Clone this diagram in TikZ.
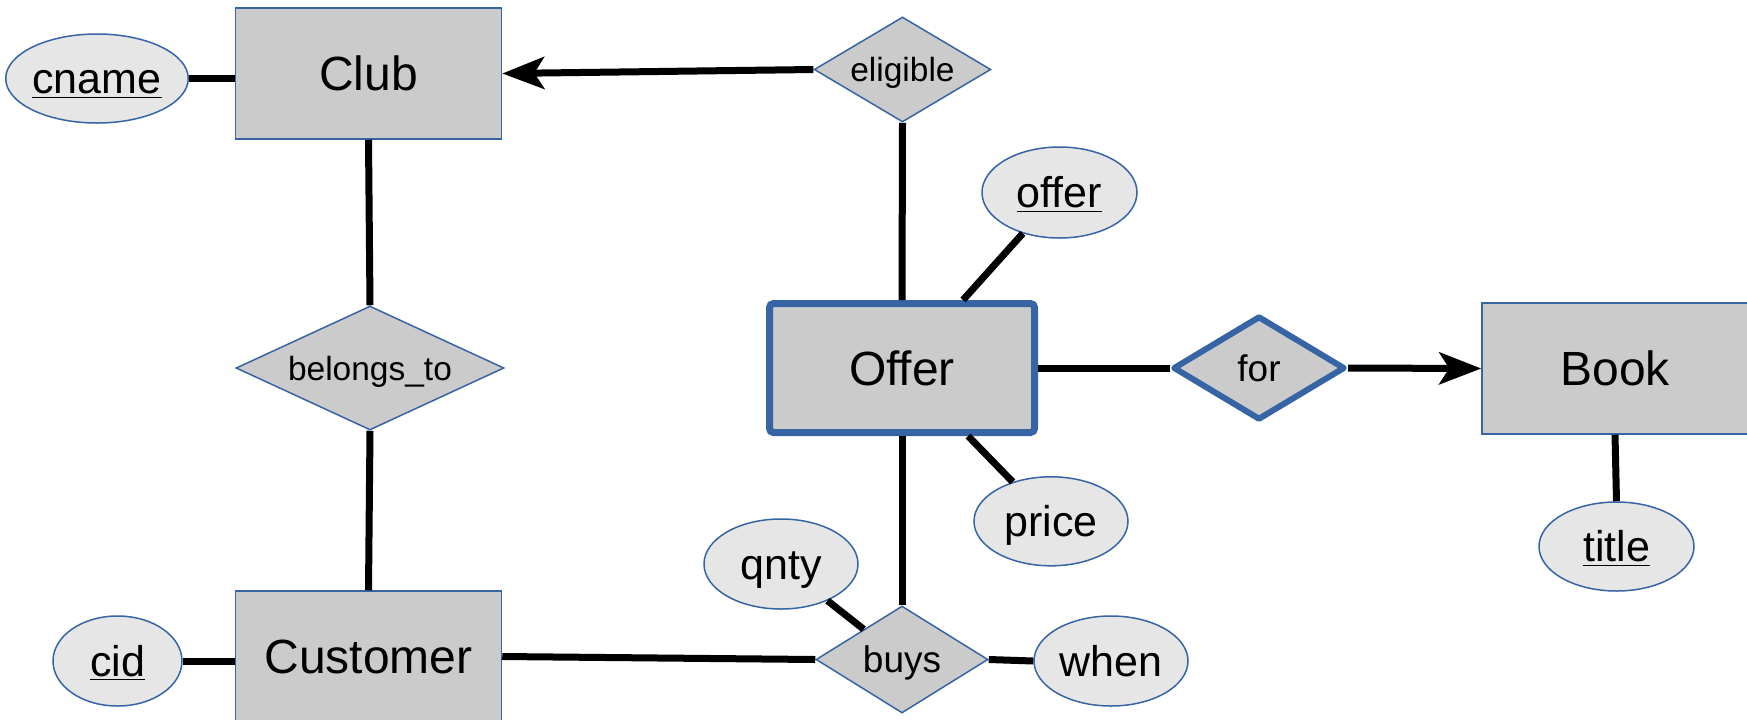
\documentclass[tikz,border=0pt]{standalone}
\usepackage{fontspec}
\setmainfont{Liberation Sans}
\usetikzlibrary{shapes.geometric,arrows.meta}
\definecolor{erblue}{RGB}{54,100,165}
\definecolor{entfill}{RGB}{203,203,203}
\definecolor{attfill}{RGB}{230,230,230}
\begin{document}
\begin{tikzpicture}[x=0.5pt,y=-0.5pt,
  entity/.style={rectangle,draw=erblue,fill=entfill,line width=0.75pt,
    minimum width=133pt,minimum height=65.5pt,inner sep=0pt,
    font=\fontsize{24}{28}\selectfont,text height=21.6pt,text depth=4.32pt},
  weakentity/.style={entity,line width=3.5pt,rounded corners=2pt,
    minimum width=132.5pt,minimum height=64.5pt},
  attr/.style={ellipse,draw=erblue,fill=attfill,line width=0.75pt,inner sep=0pt,
    font=\fontsize{21.5}{25}\selectfont,text height=19.35pt,text depth=3.87pt},
  rel/.style={diamond,draw=erblue,fill=entfill,line width=0.75pt,inner sep=0pt,aspect=2,
    font=\fontsize{16.75}{20}\selectfont,text height=15.08pt,text depth=3.02pt},
  relbig/.style={rel,font=\fontsize{18.5}{22}\selectfont,text height=16.65pt,text depth=3.33pt},
  weakrel/.style={relbig,line width=3pt,line join=round},
  conn/.style={line width=3.5pt},
  arr/.style={conn,-{Stealth[length=21pt,width=16pt,inset=5pt]}}
]
\useasboundingbox (0,0) rectangle (1747,719);

% entities
\node[entity] (Club) at (368.5,73.5) {Club};
\node[entity] (Customer) at (368.5,656.5) {Customer};
\node[weakentity] (Offer) at (902,368) {Offer};
\node[entity] (Book) at (1615,368.5) {Book};

% relationships
\node[rel,minimum width=85.5pt,minimum height=52.5pt] (eligible) at (902.5,69.5) {eligible};
\node[rel,minimum width=134pt,minimum height=62pt] (belongs) at (370,368) {belongs\_to};
\node[relbig,minimum width=86pt,minimum height=53.5pt] (buys) at (902,659.5) {buys};
\node[weakrel,minimum width=86pt,minimum height=52pt] (for) at (1259,368) {for};

% attributes
\node[attr,minimum width=85pt,minimum height=44.5pt] (cname) at (97,78.5) {\underline{cname}};
\node[attr,minimum width=64.5pt,minimum height=45pt] (cid) at (117.5,661) {\underline{cid}};
\node[attr,minimum width=77.5pt,minimum height=45.5pt] (offerattr) at (1059.5,192.5) {\underline{offer}};
\node[attr,minimum width=77pt,minimum height=44.5pt] (price) at (1051,521.3) {price};
\node[attr,minimum width=77pt,minimum height=45pt] (qnty) at (781,564) {qnty};
\node[attr,minimum width=77pt,minimum height=45pt] (when) at (1111,661) {when};
\node[attr,minimum width=77.5pt,minimum height=44.5pt] (title) at (1616.5,546.5) {\underline{title}};

% connectors
\draw[conn] (cname.east) -- (cname.east -| Club.west);
\draw[conn] (cid.east) -- (cid.east -| Customer.west);
\draw[arr] (eligible.west) -- (Club.east);
\draw[conn] (Club.south) -- (belongs.north);
\draw[conn] (belongs.south) -- (Customer.north);
\draw[conn] (eligible.south) -- (Offer.north);
\draw[conn] (Offer) -- (offerattr);
\draw[conn] (Offer) -- (price);
\draw[conn] (Offer.south) -- (buys.north);
\draw[conn] (Offer.east) -- (for.west);
\draw[arr] (for.east) -- (Book.west);
\draw[conn] (Book.south) -- (title.north);
\draw[conn] (Customer.east) -- (buys.west);
\draw[conn] (qnty) -- (buys);
\draw[conn] (buys.east) -- (when.west);
\end{tikzpicture}
\end{document}
